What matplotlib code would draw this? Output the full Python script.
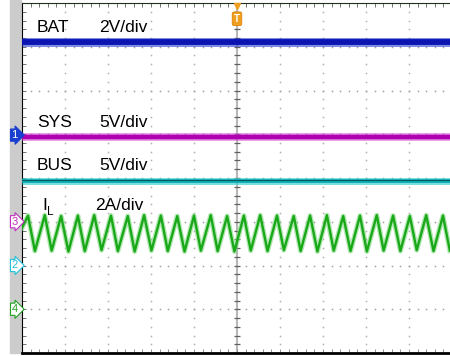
import numpy as np
import matplotlib
matplotlib.use("Agg")
import matplotlib.pyplot as plt
from matplotlib.patches import Rectangle

plt.rcParams["font.family"] = ["Liberation Sans", "DejaVu Sans"]

# ====== 数据 (单位: 格 div) ======
t_span = [0.0, 10.0]
bat_level = 7.10
sys_level = 4.93
bus_level = 3.93

# 电感电流三角波顶点
il_start = (0.0, 2.86)
il_peak_t = [0.14, 0.53, 0.91, 1.30, 1.68, 2.07, 2.46, 2.84, 3.23, 3.61,
             4.00, 4.39, 4.77, 5.16, 5.54, 5.93, 6.32, 6.70, 7.09, 7.47,
             7.86, 8.25, 8.63, 9.02, 9.40, 9.79]
il_peak = [3.14, 3.15, 3.13, 3.14, 3.15, 3.14, 3.13, 3.15, 3.14, 3.13,
           3.14, 3.15, 3.13, 3.14, 3.15, 3.14, 3.13, 3.14, 3.15, 3.13,
           3.14, 3.15, 3.14, 3.13, 3.15, 3.14]
il_trough_t = [0.30, 0.69, 1.08, 1.46, 1.85, 2.23, 2.62, 3.01, 3.39, 3.78,
               4.16, 4.55, 4.94, 5.32, 5.71, 6.09, 6.48, 6.87, 7.25, 7.64,
               8.02, 8.41, 8.80, 9.18, 9.57, 9.95]
il_trough = [2.33, 2.34, 2.32, 2.33, 2.35, 2.33, 2.32, 2.34, 2.33, 2.32,
             2.34, 2.33, 2.32, 2.34, 2.33, 2.35, 2.33, 2.32, 2.34, 2.33,
             2.32, 2.34, 2.33, 2.35, 2.33, 2.34]

labels = [("BAT", "2V/div", 7.34), ("SYS", "5V/div", 5.17), ("BUS", "5V/div", 4.18)]
il_label = ("I", "L", "2A/div", 3.27)

# 通道标记: (文字, 位置, 颜色, 是否实心)
ch_markers = [("1", 4.98, "#1a3fd0", True), ("3", 3.0, "#c030c0", False),
              ("2", 2.0, "#20c0d8", False), ("4", 1.0, "#20a020", False)]

# ====== 绘图 ======
fig = plt.figure(figsize=(4.5, 3.56), dpi=100)
fig.patches.append(Rectangle((10 / 450, 3 / 356), 11 / 450, 353 / 356,
                             transform=fig.transFigure, color="#cccccc", zorder=-1))
ax = fig.add_axes([22 / 450, 3 / 356, 428 / 450, 350 / 356])

ax.set_xlim(0, 428 / 43)
ax.set_ylim(0, 8)
ax.set_xticks([])
ax.set_yticks([])
ax.spines["right"].set_visible(False)
ax.spines["left"].set_linewidth(0.8)
ax.spines["top"].set_linewidth(0.8)
ax.spines["top"].set_color("#203020")
ax.spines["bottom"].set_linewidth(2.0)

# 网格点
steps_x = np.arange(0, 10.01, 0.2)
steps_y = np.arange(0, 8.01, 0.2)
for gx in [1, 2, 3, 4, 6, 7, 8, 9]:
    ax.plot([gx] * len(steps_y), steps_y, ls="none", marker="s", ms=1.1,
            color="#b0b0b0", mec="none", zorder=1)
for gy in [1, 2, 3, 4, 5, 6, 7]:
    ax.plot(steps_x, [gy] * len(steps_x), ls="none", marker="s", ms=1.1,
            color="#a0a0a0", mec="none", zorder=1)
# 中心线
ax.axvline(5, color="#b8b8b8", lw=1.5, zorder=1)
ax.plot([5] * len(steps_y), steps_y, ls="none", marker="_", ms=4, mew=0.9,
        color="#606060", zorder=1)
# 边框刻度
ax.plot([0.04] * len(steps_y), steps_y, ls="none", marker="_", ms=3, mew=0.7,
        color="#707070", zorder=1)
ax.plot(steps_x, [7.96] * len(steps_x), ls="none", marker="|", ms=3, mew=0.7,
        color="#707070", zorder=1)
ax.plot(steps_x, [0.05] * len(steps_x), ls="none", marker="|", ms=3, mew=0.7,
        color="#909090", zorder=1)

# 波形
ax.plot(t_span, [bat_level] * 2, color="#2a3cd8", lw=6.5, alpha=0.6, zorder=3,
        solid_capstyle="butt")
ax.plot(t_span, [bat_level] * 2, color="#0a14b0", lw=4.2, zorder=3, solid_capstyle="butt")
ax.plot(t_span, [sys_level] * 2, color="#d040d0", lw=5.5, alpha=0.6, zorder=3,
        solid_capstyle="butt")
ax.plot(t_span, [sys_level] * 2, color="#b000b0", lw=3.2, zorder=3, solid_capstyle="butt")
ax.plot(t_span, [bus_level] * 2, color="#40d0d0", lw=5.0, alpha=0.7, zorder=3,
        solid_capstyle="butt")
ax.plot(t_span, [bus_level] * 2, color="#00a8b0", lw=2.6, zorder=3, solid_capstyle="butt")
ax.plot(t_span, [bus_level + 0.03] * 2, color="#104848", lw=0.6, zorder=3)

il_t = [il_start[0]]
il_v = [il_start[1]]
for pt, pv, tt, tv in zip(il_peak_t, il_peak, il_trough_t, il_trough):
    il_t += [pt, tt]
    il_v += [pv, tv]
ax.plot(il_t, il_v, color="#80d880", lw=3.6, alpha=0.6, zorder=3)
ax.plot(il_t, il_v, color="#18a818", lw=1.7, zorder=3)

# 文字
for name, scale, y in labels:
    ax.text(0.35, y, name, fontsize=12.5, va="baseline", zorder=5)
    ax.text(1.79, y, scale, fontsize=12.5, va="baseline", zorder=5)
ax.text(0.47, il_label[3], il_label[0], fontsize=12.5, va="baseline", zorder=5)
ax.text(0.58, il_label[3] - 0.12, il_label[1], fontsize=8.5, va="baseline", zorder=5)
ax.text(1.70, il_label[3], il_label[2], fontsize=12.5, va="baseline", zorder=5)

# 通道标记
for txt, y, c, filled in ch_markers:
    ax.text(-0.17, y, txt, fontsize=8, ha="center", va="center", clip_on=False,
            color="white" if filled else c, zorder=6,
            bbox=dict(boxstyle="rarrow,pad=0.1", fc=c if filled else "white",
                      ec=c, lw=0.8))

# 触发标记
ax.plot([5], [7.93], marker="v", ms=5, color="#f0a020", clip_on=False, zorder=6)
ax.text(5, 7.64, "T", fontsize=7, ha="center", va="center", color="white",
        fontweight="bold", zorder=6,
        bbox=dict(boxstyle="round,pad=0.18", fc="#f0a020", ec="#e08000", lw=0.6))

plt.savefig("out.png", dpi=100)
plt.close()
